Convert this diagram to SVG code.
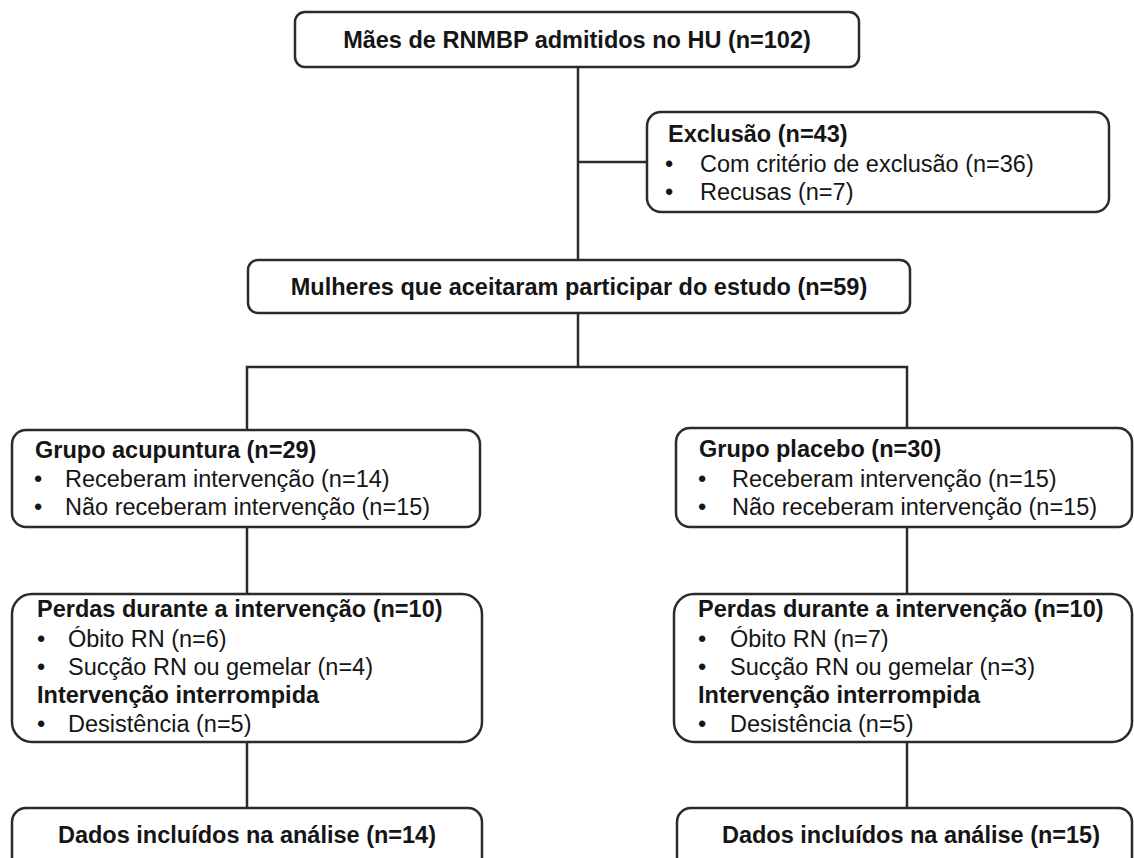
<svg xmlns="http://www.w3.org/2000/svg" width="1134" height="858" viewBox="0 0 1134 858">
<style>
.box{fill:#fff;stroke:#2b2b2b;stroke-width:2.5}
.ln{stroke:#2b2b2b;stroke-width:2.5;fill:none}
text{font-family:"Liberation Sans",Arial,sans-serif;font-size:23.5px;fill:#151515}
.b{font-weight:bold}
.c{text-anchor:middle}
</style>
<rect width="1134" height="858" fill="#fff"/>
<g id="connectors">
<line class="ln" x1="578" y1="67" x2="578" y2="260"/>
<line class="ln" x1="578" y1="162" x2="647" y2="162"/>
<line class="ln" x1="578" y1="313" x2="578" y2="367"/>
<polyline class="ln" points="247,430 247,367 907,367 907,428"/>
<line class="ln" x1="247" y1="527" x2="247" y2="594"/>
<line class="ln" x1="907" y1="527" x2="907" y2="594"/>
<line class="ln" x1="247" y1="742" x2="247" y2="808"/>
<line class="ln" x1="907" y1="742" x2="907" y2="808"/>
</g>
<g id="top">
<rect class="box" x="295" y="12" width="564" height="55" rx="10"/>
<text class="b c" x="577" y="48">Mães de RNMBP admitidos no HU (n=102)</text>
</g>
<g id="exclusao">
<rect class="box" x="647" y="112" width="462" height="100" rx="14"/>
<text class="b" x="668" y="142">Exclusão (n=43)</text>
<text x="665" y="172">•</text><text x="700" y="172">Com critério de exclusão (n=36)</text>
<text x="665" y="200">•</text><text x="700" y="200">Recusas (n=7)</text>
</g>
<g id="mulheres">
<rect class="box" x="248" y="260" width="662" height="53" rx="10"/>
<text class="b c" x="579" y="295">Mulheres que aceitaram participar do estudo (n=59)</text>
</g>
<g id="acupuntura">
<rect class="box" x="12" y="430" width="468" height="97" rx="14"/>
<text class="b" x="35" y="458">Grupo acupuntura (n=29)</text>
<text x="34" y="487">•</text><text x="65" y="487">Receberam intervenção (n=14)</text>
<text x="34" y="515">•</text><text x="65" y="515">Não receberam intervenção (n=15)</text>
</g>
<g id="placebo">
<rect class="box" x="676" y="428" width="456" height="99" rx="14"/>
<text class="b" x="699" y="457">Grupo placebo (n=30)</text>
<text x="698" y="487">•</text><text x="732" y="487">Receberam intervenção (n=15)</text>
<text x="698" y="515">•</text><text x="732" y="515">Não receberam intervenção (n=15)</text>
</g>
<g id="perdas-acupuntura">
<rect class="box" x="12" y="594" width="470" height="148" rx="20"/>
<text class="b" x="37" y="617">Perdas durante a intervenção (n=10)</text>
<text x="37" y="647">•</text><text x="68" y="647">Óbito RN (n=6)</text>
<text x="37" y="675">•</text><text x="68" y="675">Sucção RN ou gemelar (n=4)</text>
<text class="b" x="37" y="703">Intervenção interrompida</text>
<text x="37" y="732">•</text><text x="68" y="732">Desistência (n=5)</text>
</g>
<g id="perdas-placebo">
<rect class="box" x="674" y="594" width="458" height="148" rx="20"/>
<text class="b" x="698" y="617">Perdas durante a intervenção (n=10)</text>
<text x="698" y="647">•</text><text x="730" y="647">Óbito RN (n=7)</text>
<text x="698" y="675">•</text><text x="730" y="675">Sucção RN ou gemelar (n=3)</text>
<text class="b" x="698" y="703">Intervenção interrompida</text>
<text x="698" y="732">•</text><text x="730" y="732">Desistência (n=5)</text>
</g>
<g id="dados-acupuntura">
<rect class="box" x="12" y="808" width="470" height="70" rx="14"/>
<text class="b c" x="247" y="843">Dados incluídos na análise (n=14)</text>
</g>
<g id="dados-placebo">
<rect class="box" x="677" y="808" width="455" height="70" rx="14"/>
<text class="b c" x="911" y="843">Dados incluídos na análise (n=15)</text>
</g>
</svg>
